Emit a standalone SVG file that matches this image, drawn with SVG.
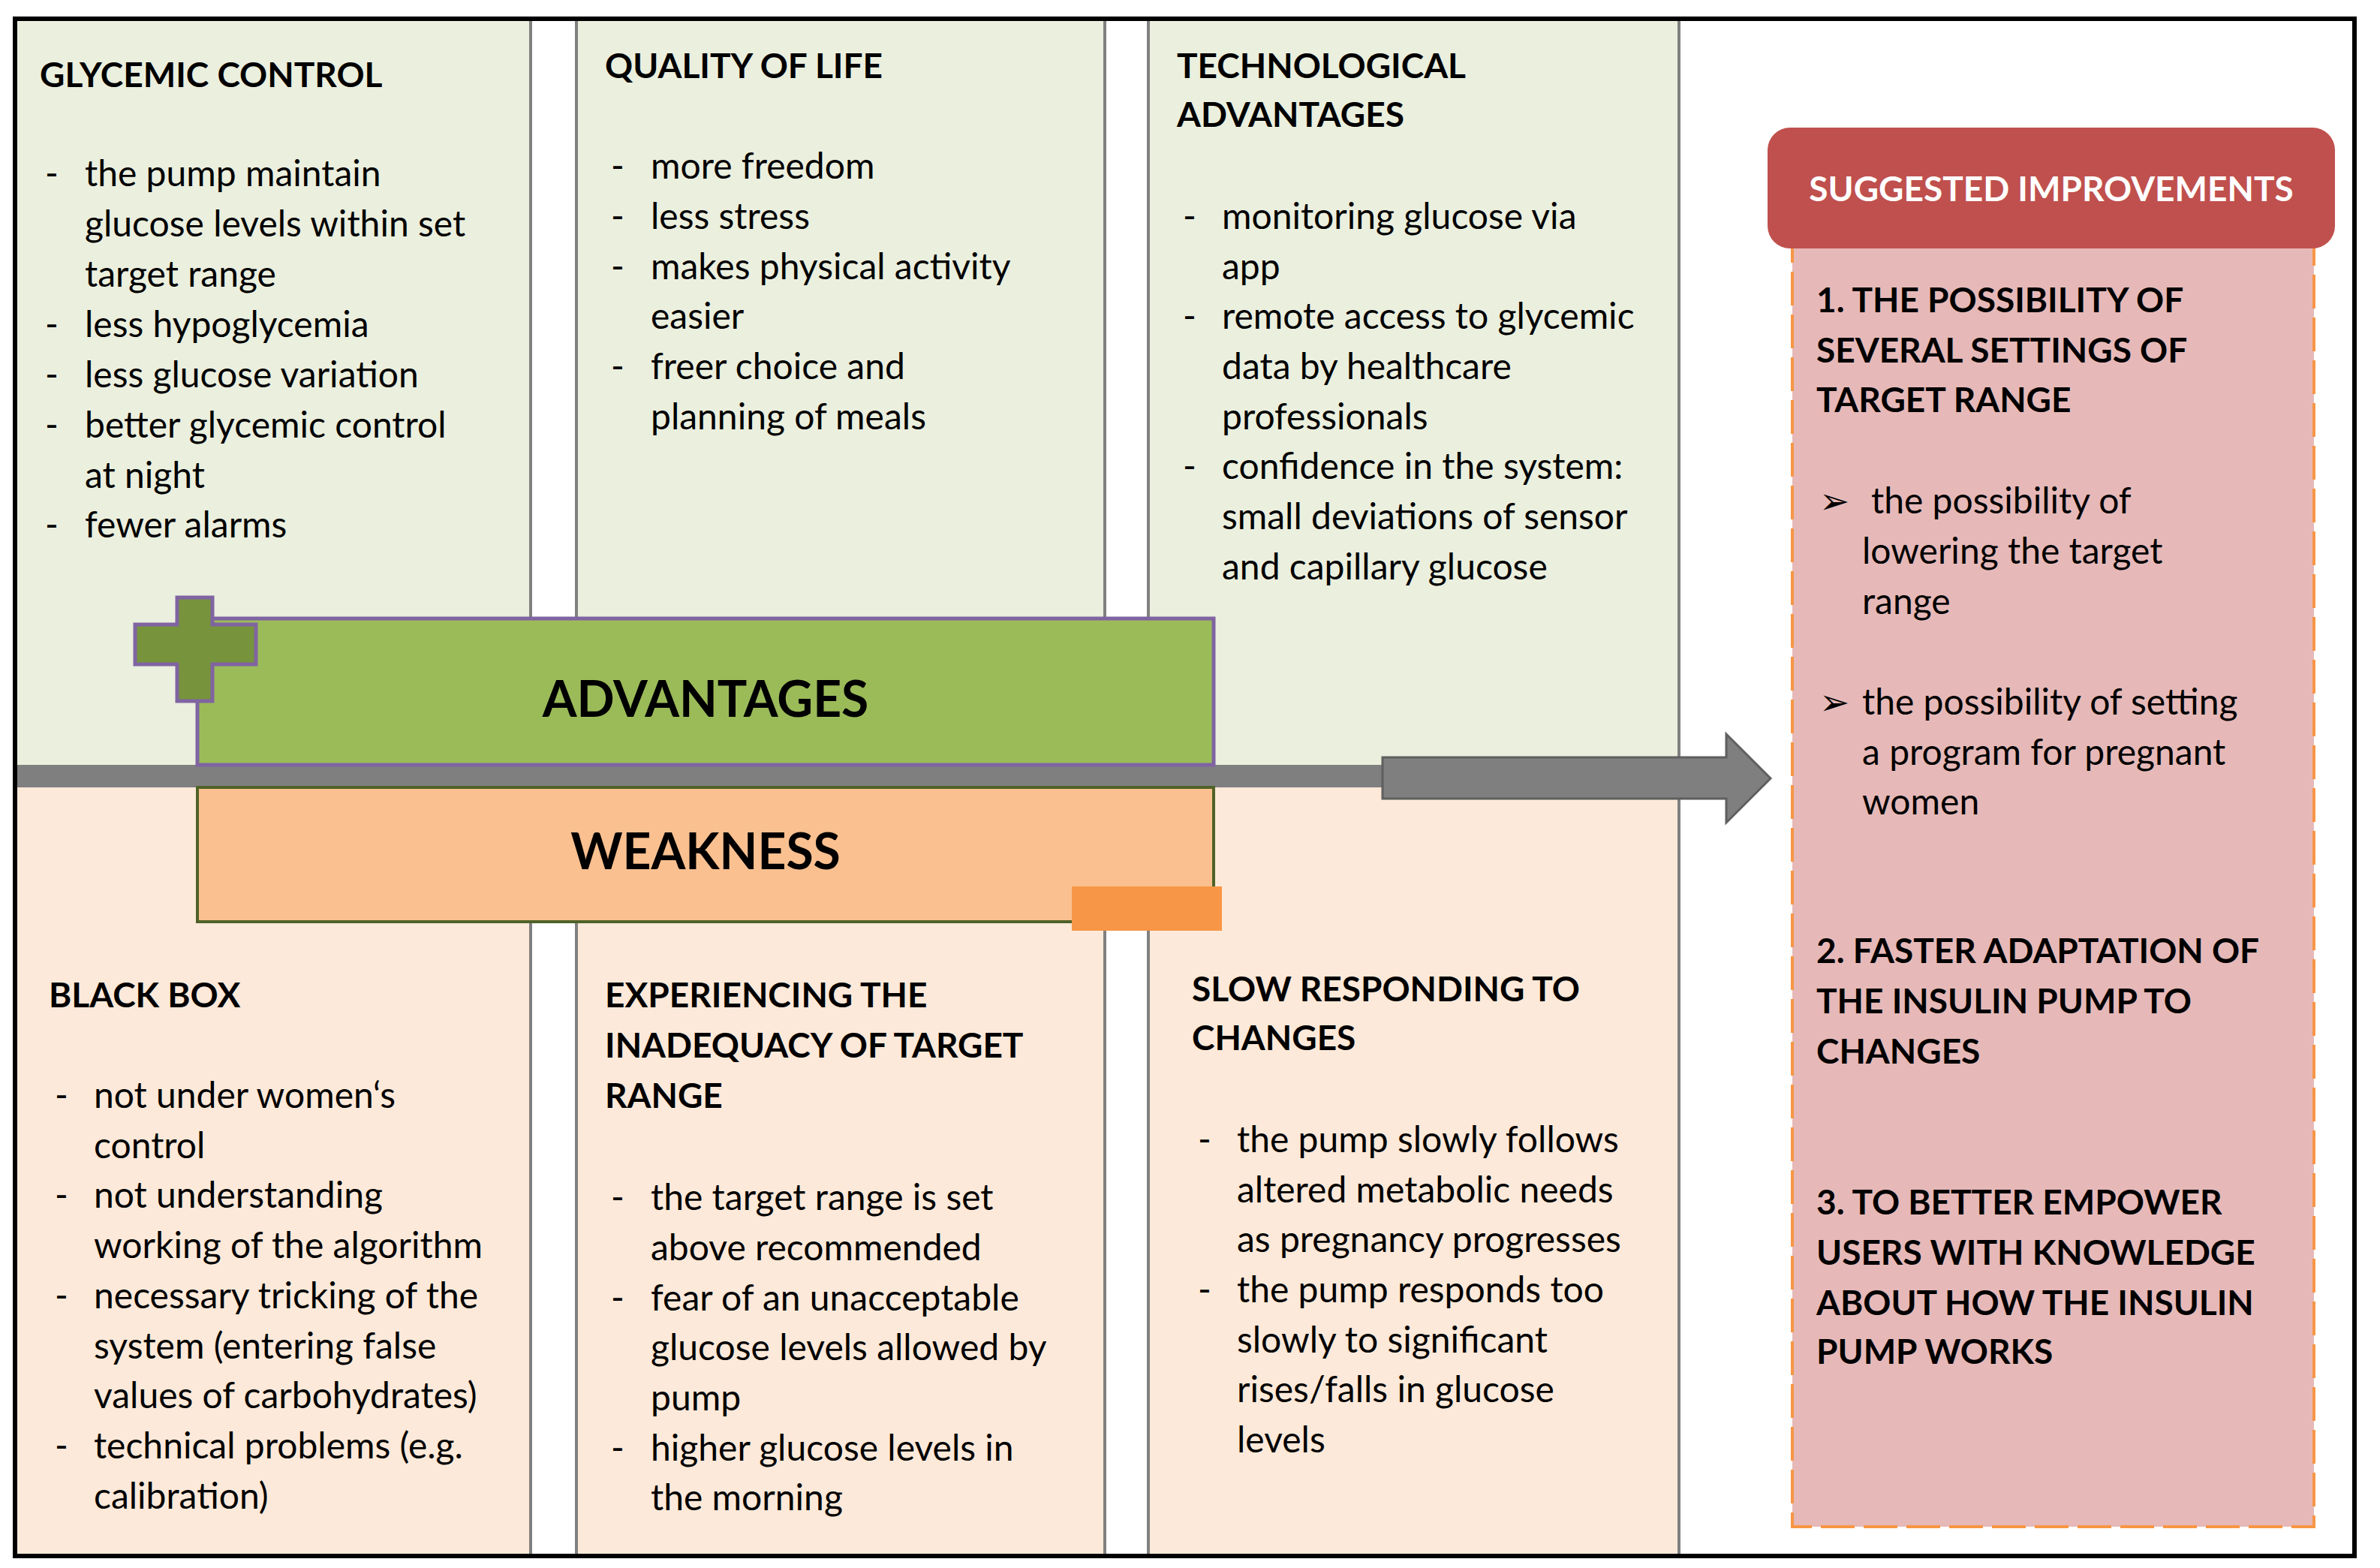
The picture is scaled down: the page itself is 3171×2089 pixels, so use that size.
<svg xmlns="http://www.w3.org/2000/svg" width="3171" height="2089" viewBox="0 0 3171 2089">
<style>
text{font-family:Lato,"Liberation Sans",sans-serif;fill:#000}
.b{font-size:48px}
.h{font-size:46px;font-weight:bold}
.big{font-size:66px;font-weight:bold}
.vl{stroke:#808080;stroke-width:4}
</style>
<rect x="0" y="0" width="3171" height="2089" fill="#fff"/>
<g id="columns">
<rect x="20" y="25" width="687" height="995" fill="#EBEFDE"/>
<rect x="768" y="25" width="704" height="995" fill="#EBEFDE"/>
<rect x="1530" y="25" width="707" height="995" fill="#EBEFDE"/>
<rect x="20" y="1049" width="687" height="1024" fill="#FDE9D9"/>
<rect x="768" y="1049" width="704" height="1024" fill="#FDE9D9"/>
<rect x="1530" y="1049" width="707" height="1024" fill="#FDE9D9"/>
<line class="vl" x1="707" y1="25" x2="707" y2="2073"/>
<line class="vl" x1="768" y1="25" x2="768" y2="2073"/>
<line class="vl" x1="1472" y1="25" x2="1472" y2="2073"/>
<line class="vl" x1="1530" y1="25" x2="1530" y2="2073"/>
<line class="vl" x1="2237" y1="25" x2="2237" y2="2073"/>
</g>
<g id="connectors">
<rect x="20" y="1019" width="1830" height="30" fill="#7F7F7F"/>
<path d="M1842 1009 H2300 V978 L2359 1037 L2300 1096 V1064 H1842 Z" fill="#7F7F7F" stroke="#5f5f5f" stroke-width="3"/>
</g>
<g id="advantages">
<rect x="263" y="824" width="1354" height="195" fill="#9BBB59" stroke="#8064A2" stroke-width="5"/>
<text class="big" x="940" y="955" text-anchor="middle">ADVANTAGES</text>
</g>
<g id="plus">
<path d="M236 796 H283 V832 H341 V885 H283 V934 H236 V885 H180 V832 H236 Z" fill="#77933C" stroke="#8064A2" stroke-width="5"/>
</g>
<g id="weakness">
<rect x="263" y="1049" width="1354" height="179" fill="#FAC090" stroke="#4F6228" stroke-width="4"/>
<text class="big" x="940" y="1158" text-anchor="middle">WEAKNESS</text>
<rect x="1428" y="1181" width="200" height="59" fill="#F79646"/>
</g>
<g id="glycemic">
<text class="h" x="53" y="116">GLYCEMIC CONTROL</text>
<text class="b"><tspan x="60" y="248">-</tspan><tspan x="60" y="449">-</tspan><tspan x="60" y="516">-</tspan><tspan x="60" y="583">-</tspan><tspan x="60" y="716">-</tspan></text>
<text class="b"><tspan x="113" y="248">the pump maintain</tspan><tspan x="113" y="315">glucose levels within set</tspan><tspan x="113" y="382">target range</tspan><tspan x="113" y="449">less hypoglycemia</tspan><tspan x="113" y="516">less glucose variation</tspan><tspan x="113" y="583">better glycemic control</tspan><tspan x="113" y="650">at night</tspan><tspan x="113" y="716">fewer alarms</tspan></text>
</g>
<g id="quality">
<text class="h" x="806" y="104">QUALITY OF LIFE</text>
<text class="b"><tspan x="814" y="238">-</tspan><tspan x="814" y="305">-</tspan><tspan x="814" y="372">-</tspan><tspan x="814" y="505">-</tspan></text>
<text class="b"><tspan x="867" y="238">more freedom</tspan><tspan x="867" y="305">less stress</tspan><tspan x="867" y="372">makes physical activity</tspan><tspan x="867" y="438">easier</tspan><tspan x="867" y="505">freer choice and</tspan><tspan x="867" y="572">planning of meals</tspan></text>
</g>
<g id="tech">
<text class="h"><tspan x="1568" y="104">TECHNOLOGICAL</tspan><tspan x="1568" y="169">ADVANTAGES</tspan></text>
<text class="b"><tspan x="1576" y="305">-</tspan><tspan x="1576" y="438">-</tspan><tspan x="1576" y="638">-</tspan></text>
<text class="b"><tspan x="1628" y="305">monitoring glucose  via</tspan><tspan x="1628" y="372">app</tspan><tspan x="1628" y="438">remote access to glycemic</tspan><tspan x="1628" y="505">data  by healthcare</tspan><tspan x="1628" y="572">professionals</tspan><tspan x="1628" y="638">confidence in the system:</tspan><tspan x="1628" y="705">small deviations of sensor</tspan><tspan x="1628" y="772">and capillary glucose</tspan></text>
</g>
<g id="blackbox">
<text class="h" x="65" y="1342">BLACK BOX</text>
<text class="b"><tspan x="73" y="1476">-</tspan><tspan x="73" y="1609">-</tspan><tspan x="73" y="1743">-</tspan><tspan x="73" y="1943">-</tspan></text>
<text class="b"><tspan x="125" y="1476">not under women‘s</tspan><tspan x="125" y="1543">control</tspan><tspan x="125" y="1609">not understanding</tspan><tspan x="125" y="1676">working of the algorithm</tspan><tspan x="125" y="1743">necessary tricking of the</tspan><tspan x="125" y="1810">system (entering false</tspan><tspan x="125" y="1876">values of carbohydrates)</tspan><tspan x="125" y="1943">technical problems (e.g.</tspan><tspan x="125" y="2010">calibration)</tspan></text>
</g>
<g id="inadequacy">
<text class="h"><tspan x="806" y="1342">EXPERIENCING THE</tspan><tspan x="806" y="1409">INADEQUACY OF TARGET</tspan><tspan x="806" y="1476">RANGE</tspan></text>
<text class="b"><tspan x="814" y="1612">-</tspan><tspan x="814" y="1746">-</tspan><tspan x="814" y="1946">-</tspan></text>
<text class="b"><tspan x="867" y="1612">the target range is set</tspan><tspan x="867" y="1679">above recommended</tspan><tspan x="867" y="1746">fear of an unacceptable</tspan><tspan x="867" y="1812">glucose levels allowed by</tspan><tspan x="867" y="1879">pump</tspan><tspan x="867" y="1946">higher glucose levels in</tspan><tspan x="867" y="2012">the morning</tspan></text>
</g>
<g id="slow">
<text class="h"><tspan x="1588" y="1334">SLOW RESPONDING TO</tspan><tspan x="1588" y="1399">CHANGES</tspan></text>
<text class="b"><tspan x="1596" y="1535">-</tspan><tspan x="1596" y="1735">-</tspan></text>
<text class="b"><tspan x="1648" y="1535">the pump slowly follows</tspan><tspan x="1648" y="1602">altered metabolic needs</tspan><tspan x="1648" y="1668">as pregnancy progresses</tspan><tspan x="1648" y="1735">the pump responds too</tspan><tspan x="1648" y="1802">slowly to significant</tspan><tspan x="1648" y="1868">rises/falls in glucose</tspan><tspan x="1648" y="1935">levels</tspan></text>
</g>
<g id="improvements">
<rect x="2388" y="320" width="695" height="1714" fill="#E6B9B8" stroke="#F79646" stroke-width="4" stroke-dasharray="45,12"/>
<rect x="2355" y="170" width="756" height="161" rx="30" fill="#C0504D"/>
<text class="h" x="2733" y="268" text-anchor="middle" style="fill:#fff">SUGGESTED IMPROVEMENTS</text>
<text class="h"><tspan x="2420" y="416">1. THE POSSIBILITY OF</tspan><tspan x="2420" y="483">SEVERAL SETTINGS OF</tspan><tspan x="2420" y="549">TARGET RANGE</tspan></text>
<text class="b"><tspan x="2424" y="684">➢</tspan><tspan x="2424" y="952">➢</tspan></text>
<text class="b"><tspan x="2493" y="684">the possibility of</tspan><tspan x="2481" y="751">lowering the target</tspan><tspan x="2481" y="818">range</tspan><tspan x="2481" y="952">the possibility of setting</tspan><tspan x="2481" y="1019">a program for pregnant</tspan><tspan x="2481" y="1085">women</tspan></text>
<text class="h"><tspan x="2420" y="1283">2. FASTER ADAPTATION OF</tspan><tspan x="2420" y="1350">THE INSULIN PUMP TO</tspan><tspan x="2420" y="1417">CHANGES</tspan></text>
<text class="h"><tspan x="2420" y="1618">3. TO BETTER EMPOWER</tspan><tspan x="2420" y="1685">USERS WITH KNOWLEDGE</tspan><tspan x="2420" y="1752">ABOUT HOW THE INSULIN</tspan><tspan x="2420" y="1817">PUMP WORKS</tspan></text>
</g>
<rect x="20" y="25" width="3117" height="2048" fill="none" stroke="#000" stroke-width="6"/>
</svg>
